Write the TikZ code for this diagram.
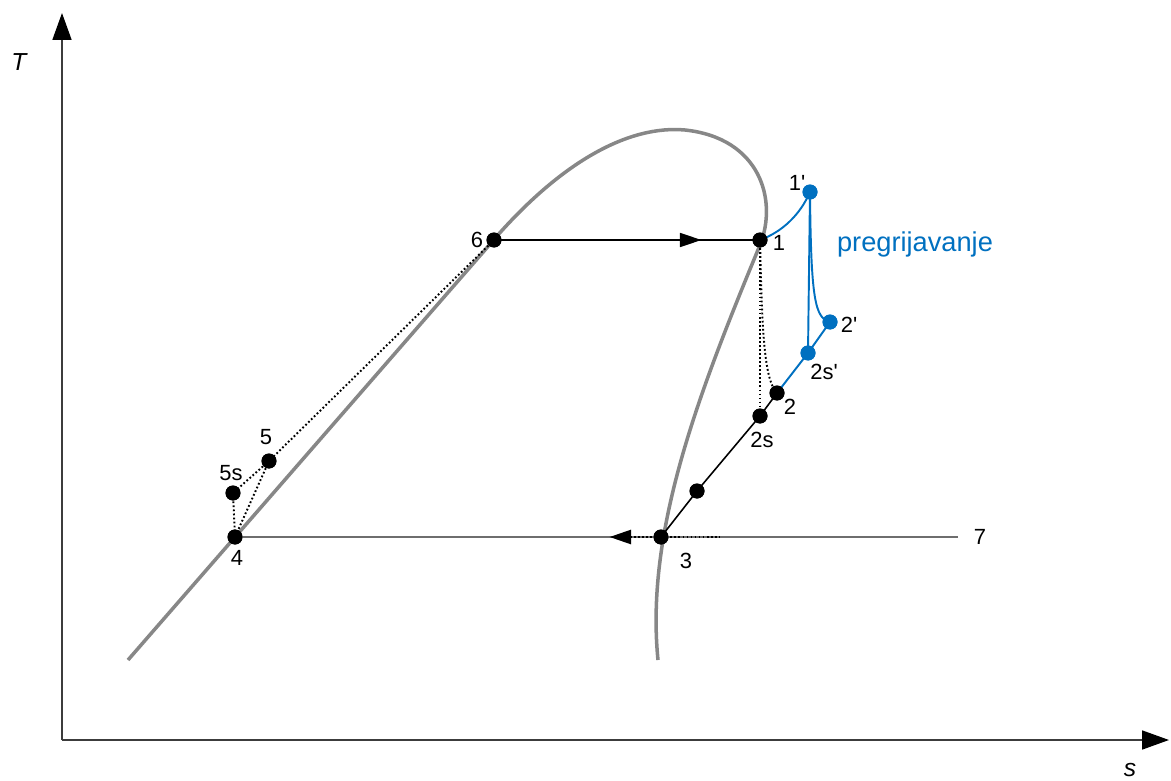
\documentclass[tikz,border=0pt]{standalone}
\usepackage{fontspec}
\setmainfont{Liberation Sans}
\usetikzlibrary{arrows.meta,decorations.markings}
\definecolor{domegray}{RGB}{135,135,135}
\definecolor{linegray}{RGB}{110,110,110}
\definecolor{axisgray}{RGB}{60,60,60}
\definecolor{cblue}{RGB}{0,112,192}
\begin{document}
\begin{tikzpicture}[x=0.02cm,y=-0.02cm,
  dot/.style={circle,fill=black,inner sep=0pt,minimum size=0.3cm},
  bdot/.style={circle,fill=cblue,inner sep=0pt,minimum size=0.3cm},
  lbl/.style={font=\fontsize{12.5}{14}\selectfont,inner sep=0pt},
  axis/.style={draw=axisgray,line width=1pt,-{Triangle[length=0.54cm,width=0.38cm,color=black]}},
  dome/.style={draw=domegray,line width=2pt},
  proc/.style={draw=black,line width=0.9pt},
  dots/.style={draw=black,line width=1.1pt,dash pattern=on 1pt off 1.3pt},
  bl/.style={draw=cblue,line width=1.1pt},
  midarrow/.style={postaction={decorate},decoration={markings,
    mark=at position #1 with {\arrow[black]{Triangle[length=0.43cm,width=0.28cm]}}}}
]
\useasboundingbox (0,0) rectangle (1171,781);
% axes
\coordinate (O) at (62,740);
\coordinate (Ttop) at (62,13);
\coordinate (Send) at (1169,740);
\draw[axis] (O) -- (Ttop);
\draw[axis] (O) -- (Send);
\node[font=\fontsize{14}{16}\selectfont\itshape] (Tl) at (19,62) {T};
\node[font=\fontsize{14}{16}\selectfont\itshape] (sl) at (1130,770) {s};
% saturation dome
\draw[dome] (128,660) -- (485,250) .. controls (560,160) and (630,125) .. (685,130)
  .. controls (760,138) and (778,200) .. (760,245)
  .. controls (700,390) and (645,530) .. (658,660);
% points
\node[dot] (p6) at (494,240) {};
\node[dot] (p1) at (760,240) {};
\node[dot] (p2) at (777,393) {};
\node[dot] (p2s) at (760,416) {};
\node[dot] (pm) at (697,491) {};
\node[dot] (p3) at (661,537) {};
\node[dot] (p4) at (235,537) {};
\node[dot] (p5) at (269,461) {};
\node[dot] (p5s) at (233,493) {};
\coordinate (p7) at (958,537);
\node[bdot] (q1) at (810,192) {};
\node[bdot] (q2) at (830,322) {};
\node[bdot] (q2s) at (808,353) {};
% horizontal low-pressure line
\draw[draw=linegray,line width=1.4pt,midarrow=0.482] (p7) -- (p4.center);
\draw[dots] (630,537) -- (p3.center) -- (720,537);
% evaporation line
\draw[proc,midarrow=0.78] (p6.center) -- (p1.center);
% compression line
\draw[proc] (p3.center) -- (pm.center) -- (p2s.center) -- (p2.center);
\draw[dots] (p1.center) -- (p2s.center);
\draw[dots] (p1.center) .. controls (762,330) and (764,380) .. (p2.center);
% left dotted
\draw[dots] (p6.center) -- (p5.center) -- (p4.center);
\draw[dots] (p5.center) -- (p5s.center) -- (p4.center);
% blue superheating
\draw[bl] (p1.center) .. controls (782,232) and (800,215) .. (q1.center);
\draw[bl] (q1.center) -- (q2s.center);
\draw[bl] (q1.center) .. controls (811,300) and (815,318) .. (q2.center);
\draw[bl] (p2.center) -- (q2s.center) -- (q2.center);
% redraw dots on top
\foreach \n in {p6,p1,p2,p2s,pm,p3,p4,p5,p5s} \fill (\n) circle (0.15cm);
\foreach \n in {q1,q2,q2s} \fill[cblue] (\n) circle (0.15cm);
% labels
\node[lbl] (l6) at (477,240) {6};
\node[lbl] (l1) at (779,243) {1};
\node[lbl] (l1p) at (797,183) {1\textquotesingle};
\node[lbl,text=cblue,font=\fontsize{15.5}{17}\selectfont] (lpr) at (915,244) {pregrijavanje};
\node[lbl] (l2p) at (849,325) {2\textquotesingle};
\node[lbl] (l2sp) at (824,372) {2s\textquotesingle};
\node[lbl] (l2) at (790,407) {2};
\node[lbl] (l2s) at (762,440) {2s};
\node[lbl] (l3) at (686,561) {3};
\node[lbl] (l4) at (237,558) {4};
\node[lbl] (l5) at (266,437) {5};
\node[lbl] (l5s) at (231,473) {5s};
\node[lbl] (l7) at (980,537) {7};
\end{tikzpicture}
\end{document}
